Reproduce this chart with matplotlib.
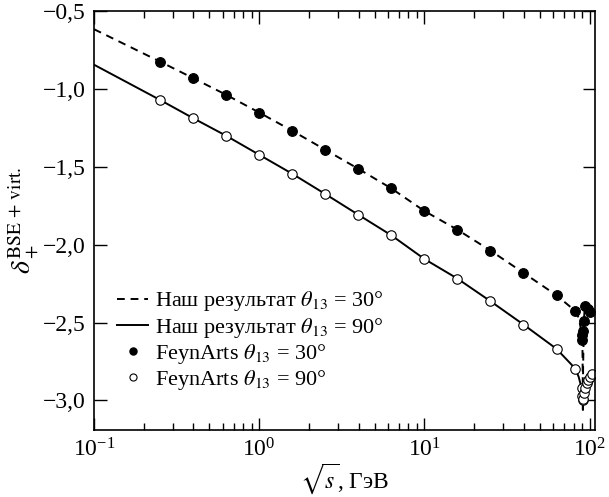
import matplotlib
matplotlib.use("Agg")
import matplotlib.pyplot as plt
from matplotlib.ticker import FixedLocator, LogLocator, NullFormatter, FuncFormatter

plt.rcParams['font.family'] = ['Liberation Serif', 'DejaVu Serif']
plt.rcParams['mathtext.fontset'] = 'stix'
plt.rcParams['font.size'] = 16

# --- data ---
sqrt_s_pts = [0.251, 0.398, 0.631, 1.0, 1.585, 2.512, 3.981, 6.31, 10.0, 15.85, 25.12, 39.81, 63.1]
fa30_main = [-0.825, -0.931, -1.038, -1.152, -1.269, -1.391, -1.513, -1.639, -1.784, -1.904, -2.038, -2.181, -2.325]
fa90_main = [-1.071, -1.188, -1.301, -1.423, -1.545, -1.675, -1.808, -1.940, -2.092, -2.218, -2.363, -2.513, -2.669]

fa30_z_x = [82.2, 90.0, 90.6, 91.5, 92.4, 93.6, 97.7, 100.5]
fa30_z_y = [-2.427, -2.609, -2.583, -2.556, -2.490, -2.395, -2.410, -2.430]
fa90_z_x = [82.2, 89.5, 90.3, 91.0, 91.5, 92.5, 94.0, 96.0, 98.0, 100.5, 103.0]
fa90_z_y = [-2.797, -2.920, -2.970, -3.000, -2.990, -2.950, -2.920, -2.890, -2.870, -2.850, -2.830]

ours30_x = [0.1, 0.251, 0.398, 0.631, 1.0, 1.585, 2.512, 3.981, 6.31, 10.0, 15.85, 25.12, 39.81, 63.1,
            82.2, 86.0, 89.0, 90.5, 91.0, 91.19, 91.4, 92.4, 93.6, 97.7, 100.5]
ours30_y = [-0.617, -0.825, -0.931, -1.038, -1.152, -1.269, -1.391, -1.513, -1.639, -1.784, -1.904, -2.038,
            -2.181, -2.325, -2.427, -2.470, -2.550, -2.620, -2.850, -3.060, -2.800, -2.490, -2.400, -2.410, -2.430]
ours90_x = [0.1, 0.251, 0.398, 0.631, 1.0, 1.585, 2.512, 3.981, 6.31, 10.0, 15.85, 25.12, 39.81, 63.1,
            82.2, 86.0, 89.0, 90.3, 91.0, 91.19, 91.5, 92.5, 94.0, 96.0, 98.0, 100.5, 103.0]
ours90_y = [-0.845, -1.071, -1.188, -1.301, -1.423, -1.545, -1.675, -1.808, -1.940, -2.092, -2.218, -2.363,
            -2.513, -2.669, -2.797, -2.850, -2.910, -2.970, -3.010, -3.060, -2.990, -2.950, -2.920, -2.890,
            -2.870, -2.850, -2.830]

y_ticks = [-3.0, -2.5, -2.0, -1.5, -1.0, -0.5]

fig = plt.figure(figsize=(6.09, 4.97), dpi=100)
ax = fig.add_axes([0.1544, 0.1348, 0.8227, 0.8431])

lw = 1.4
ax.plot(ours30_x, ours30_y, color='black', lw=lw, linestyle=(0, (4, 3)),
        label=r'Наш результат $\theta_{13}$ = 30°')
ax.plot(ours90_x, ours90_y, color='black', lw=lw, linestyle='-',
        label=r'Наш результат $\theta_{13}$ = 90°')
ax.plot(sqrt_s_pts + fa30_z_x, fa30_main + fa30_z_y, 'o', color='black', ms=7, mew=0.8,
        label=r'FeynArts $\theta_{13}$ = 30°')
ax.plot(sqrt_s_pts + fa90_z_x, fa90_main + fa90_z_y, 'o', mfc='white', mec='black', ms=6.8, mew=0.8,
        label=r'FeynArts $\theta_{13}$ = 90°')

ax.set_xscale('log')
ax.set_xlim(0.1, 108)
ax.set_ylim(-3.19, -0.5)
ax.yaxis.set_major_locator(FixedLocator(y_ticks))
ax.yaxis.set_major_formatter(FuncFormatter(lambda v, p: ('%.1f' % v).replace('-', '\u2212').replace('.', ',')))
ax.xaxis.set_major_locator(LogLocator(base=10, numticks=10))
ax.xaxis.set_minor_locator(LogLocator(base=10, subs=range(2, 10), numticks=20))
ax.xaxis.set_minor_formatter(NullFormatter())

ax.tick_params(which='both', direction='in', top=True, right=True, width=1.0)
ax.tick_params(which='major', length=9, labelsize=17)
ax.tick_params(axis='x', which='major', pad=6)
ax.tick_params(axis='y', which='major', pad=6)
ax.tick_params(which='minor', length=5)
for s in ax.spines.values():
    s.set_linewidth(1.2)

ax.set_xlabel(r'$\sqrt{s}$, ГэВ', fontsize=17, labelpad=0)
ax.set_ylabel(r'$\delta_+^{\mathrm{BSE\,+\,virt.}}$', fontsize=20, labelpad=2)

leg = ax.legend(loc='lower left', bbox_to_anchor=(0.0, 0.035), frameon=False, fontsize=16,
                handlelength=1.4, handletextpad=0.3, labelspacing=0.1, markerscale=0.75,
                borderaxespad=0.65)

fig.savefig('out.png', dpi=100)
